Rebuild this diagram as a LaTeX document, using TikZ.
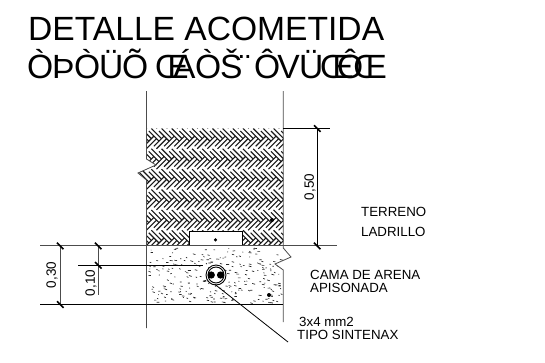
\documentclass[tikz,border=0pt]{standalone}
\usepackage{fontspec}
\setmainfont{Liberation Sans}
\newcommand{\gl}[2]{\rlap{\hspace{#1pt}#2}}
\tikzset{
  thinline/.style={line width=0.8pt,black!70},
  darkline/.style={line width=0.8pt,black},
  tick/.style={line width=1.6pt,black},
  lab/.style={anchor=base west,inner sep=0pt,font=\fontsize{13.3}{13.3}\selectfont},
  dimlab/.style={inner sep=0pt,rotate=90,font=\fontsize{13.5}{13.5}\selectfont},
  ttl/.style={anchor=base west,inner sep=0pt,font=\fontsize{33.6}{33.6}\selectfont},
  hatchline/.style={line width=1.1pt,black!90}
}
\begin{document}
\begin{tikzpicture}[x=1pt,y=-1pt]
\useasboundingbox (0,0) rectangle (545,362);
\fill[white] (0,0) rectangle (545,362);
% titles
\node[ttl] (t1) at (28,40) {DETALLE ACOMETIDA};
\node[ttl] (t2) at (27,78) {\gl{0}{Ò}\gl{25}{Þ}\gl{47}{Ò}\gl{72}{Ü}\gl{95}{Õ}\gl{128}{Œ}\gl{146}{Á}\gl{168}{Ò}\gl{193}{Š}\gl{212}{¨}\gl{227}{Ô}\gl{250}{V}\gl{272}{Ü}\gl{293}{Œ}\gl{310}{Ô}\gl{326}{Œ}\hphantom{Ò}};
% herringbone hatch
\begin{scope}
\clip (146.5,128.3) -- (283.3,128.3) -- (283.3,245.7) -- (146.5,245.7) -- (146.5,180) -- (138,173) -- (156,165) -- (146.5,159) -- cycle;
\begin{scope}[shift={(215,187)},rotate=45]
\def\w{7.2}
\foreach \i in {-14,...,14}{
 \foreach \j in {-8,...,8}{
  \pgfmathsetmacro{\xo}{(\i+2*\j)*\w}
  \pgfmathsetmacro{\yo}{(\i-2*\j)*\w}
  \draw[hatchline]
    (\xo,\yo) -- ++(2*\w,0)
    (\xo,\yo+\w/2) -- ++(2*\w,0)
    (\xo+2*\w,\yo-\w) -- ++(0,2*\w)
    (\xo+2*\w+\w/2,\yo-\w) -- ++(0,2*\w);
 }
}
\end{scope}
\end{scope}
% sand
\begin{scope}
\clip (146.5,246) -- (283.3,246) -- (291,257) -- (275,264) -- (283.3,270) -- (283.3,304) -- (146.5,304) -- cycle;
\pgfmathsetseed{4217}
\foreach \n in {1,...,260}{
  \pgfmathsetmacro{\px}{148+rnd*134}
  \pgfmathsetmacro{\py}{248+rnd*55}
  \pgfmathsetmacro{\dx}{0.6+rnd*2.4}
  \pgfmathsetmacro{\dy}{(rnd-0.2)*1.2}
  \draw[line width=0.65pt,black!85] (\px,\py) -- ++(\dx,\dy);
}
\end{scope}
% brick
\node[draw=black,line width=0.9pt,fill=white,minimum width=53pt,minimum height=14.7pt,inner sep=0pt] (brick) at (215.8,238.3) {};
\fill[black] (215.5,239.8) circle (1.7);
\fill[black] (272,220) circle (2);
\fill[black] (269,295) circle (2);
% walls
\draw[thinline] (146.5,91) -- (146.5,159) -- (156,165) -- (138,173) -- (146.5,180) -- (146.5,328);
\draw[thinline] (283.3,91) -- (283.3,248) -- (291,257) -- (275,264) -- (283.3,270) -- (283.3,322);
% horizontals
\draw[thinline] (40,245.7) -- (337,245.7);
\draw[darkline] (40,304.3) -- (283.3,304.3);
\draw[darkline] (78,265) -- (203,265);
\draw[darkline] (283.3,128.3) -- (330,128.3);
% conduit
\node[circle,draw=black,line width=0.9pt,fill=white,minimum size=20pt,inner sep=0pt] (conduit) at (216,275) {};
\draw[black,line width=0.9pt] (216,275) circle (8);
\fill[black] (211.3,275) circle (3.6) (220.5,275) circle (3.6);
\coordinate (leaderend) at (288,342);
\draw[black,line width=0.8pt] (conduit.south) ++(-1,-1) -- (leaderend);
% dimensions
\draw[thinline] (60,245.7) -- (60,304.3);
\draw[thinline] (98,245.7) -- (98,295);
\draw[darkline] (317,128.3) -- (317,245.7);
\foreach \x/\y in {60/245.7,60/304.3,98/245.7,98/265,317/128.3,317/245.7}
  \draw[tick] (\x-3,\y-3) -- (\x+3.5,\y+3.5);
\node[dimlab] (d30) at (52,275) {0,30};
\node[dimlab] (d10) at (91,283) {0,10};
\node[dimlab] (d50) at (310,187) {0,50};
% labels
\node[lab] (l1) at (361,216) {TERRENO};
\node[lab] (l2) at (361,236) {LADRILLO};
\node[lab] (l3) at (310,279) {CAMA DE ARENA};
\node[lab] (l4) at (310,292) {APISONADA};
\node[lab] (l5) at (299,326) {3x4 mm2};
\node[lab] (l6) at (297,339) {TIPO SINTENAX};
\end{tikzpicture}
\end{document}
